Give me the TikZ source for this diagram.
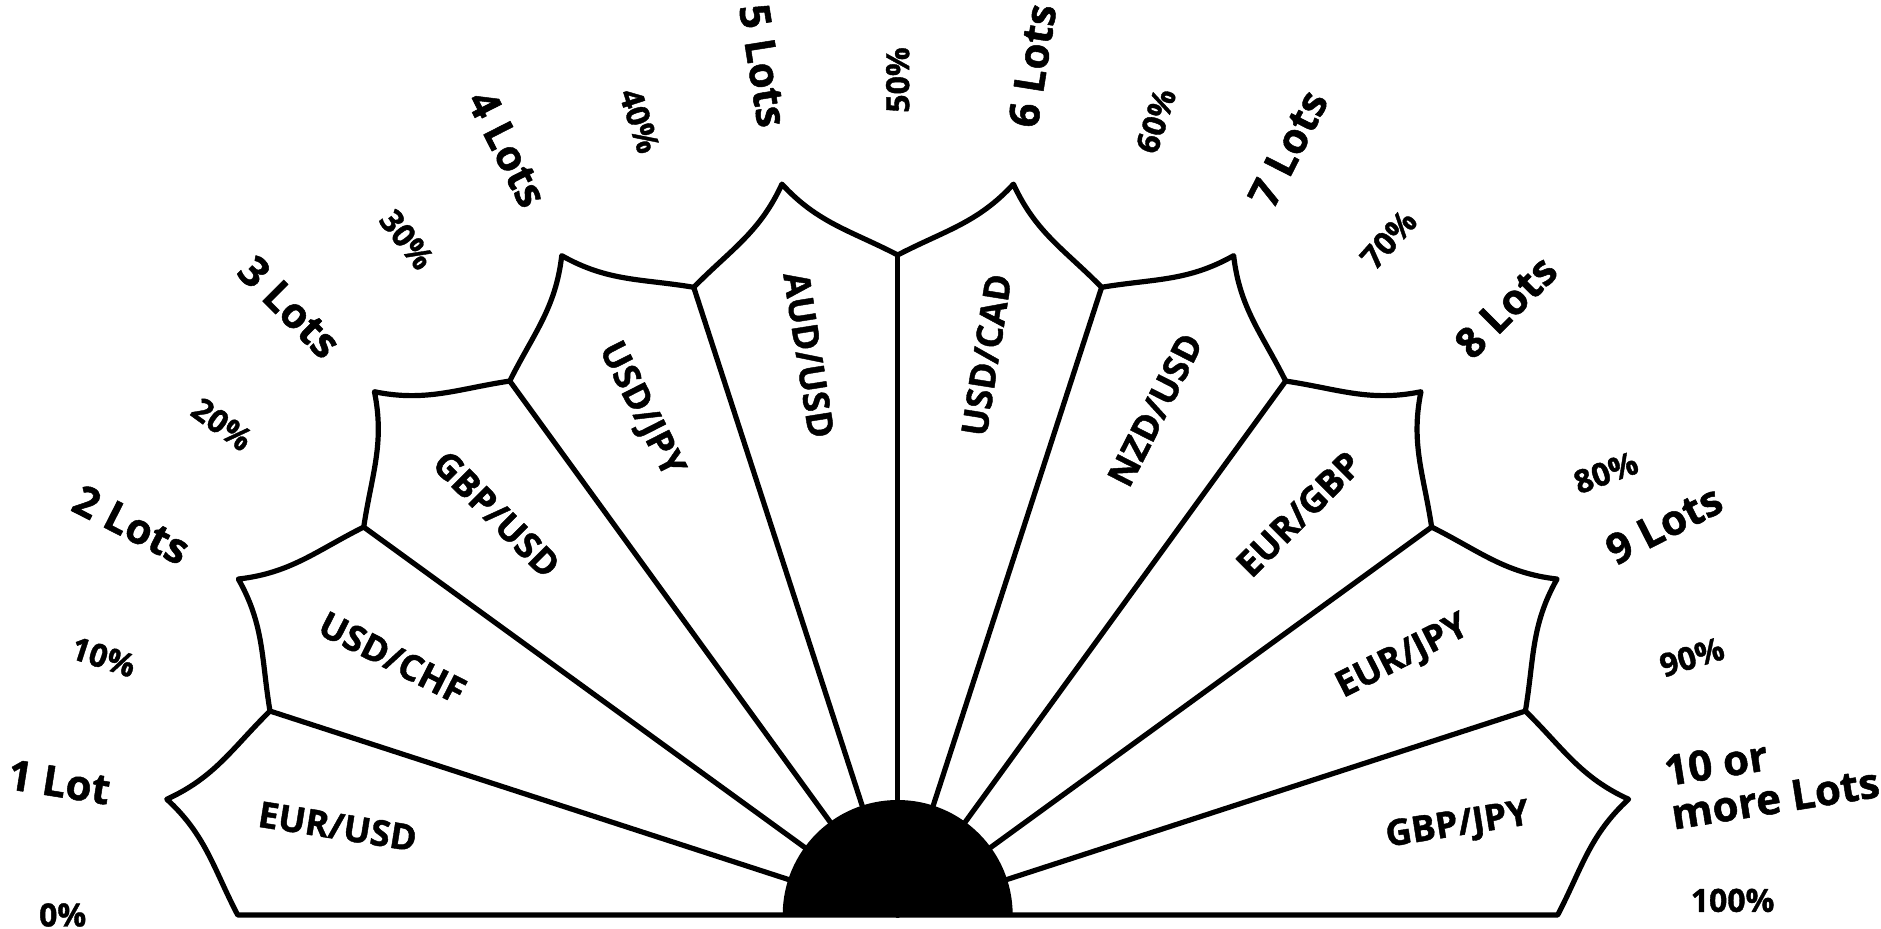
\documentclass[tikz,border=0pt]{standalone}
\usepackage{fontspec}
\setmainfont{Open Sans}[BoldFeatures={FakeBold=1.2}]
\begin{document}
\begin{tikzpicture}[x=0.5pt, y=0.5pt, line width=2.6pt, line join=round, line cap=round,
    totip/.style={out=-4, in=196, relative},
    fromtip/.style={out=-16, in=184, relative},
    lotlabel/.style={font=\bfseries\fontsize{21}{22}\selectfont, align=left, inner sep=0pt},
    pctlabel/.style={font=\bfseries\fontsize{16}{18}\selectfont, inner sep=0pt},
    pairlabel/.style={font=\bfseries\fontsize{18}{20}\selectfont, inner sep=0pt}]
  \useasboundingbox (-897.7,-13) rectangle (983.3,915);
  \coordinate (o) at (0,0);
  % 放射線の端点と外側の尖り
  \foreach \i in {0,...,10} \coordinate (e\i) at ({180-18*\i}:660);
  \foreach \i in {1,...,10} \coordinate (t\i) at ({189-18*\i}:740);
  % 放射線
  \foreach \i in {1,...,9} \draw (o) -- (e\i);
  % 外周
  \draw (e0) \foreach \i in {1,...,10} {
      to[totip] (t\i) to[fromtip] (e\i)} -- cycle;
  % 中心の半円
  \fill (o) ++(115,0) arc[start angle=0, end angle=180, radius=115] -- cycle;
  % 通貨ペア
  \foreach \txt [count=\k] in {EUR/USD, USD/CHF, GBP/USD, USD/JPY, AUD/USD,
      USD/CAD, NZD/USD, EUR/GBP, EUR/JPY, GBP/JPY} {
    \pgfmathsetmacro\ang{189-18*\k}
    \pgfmathsetmacro\rot{\ang>90 ? \ang-180 : \ang}
    \node[pairlabel, rotate=\rot] (pair\k) at (\ang:567) {\txt};
  }
  % ロット数
  \foreach \txt/\r [count=\k] in {1 Lot/849, 2 Lots/860, 3 Lots/860, 4 Lots/860,
      5 Lots/860, 6 Lots/860, 7 Lots/860, 8 Lots/860, 9 Lots/860,
      {10 or\\more Lots}/885} {
    \pgfmathsetmacro\ang{189-18*\k}
    \pgfmathsetmacro\rot{\ang>90 ? \ang-180 : \ang}
    \node[lotlabel, rotate=\rot] (lot\k) at (\ang:\r) {\txt};
  }
  % パーセント
  \foreach \ang/\rot/\txt in {180/0/0, 162/-18/10, 144/-36/20, 126/-52/30,
      108/-72/40, 90/90/50, 72/72/60, 54/48/70, 32/20/80, 18/17/90, 1/0/100}
    \node[pctlabel, rotate=\rot] (pct\txt) at (\ang:835) {\txt\%};
\end{tikzpicture}
\end{document}
